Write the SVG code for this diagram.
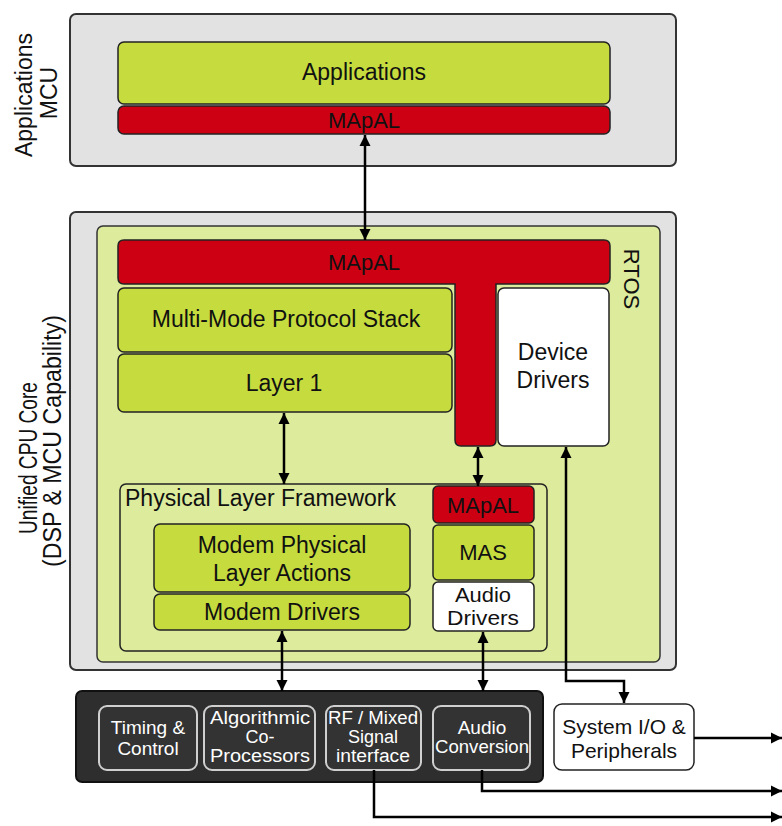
<svg xmlns="http://www.w3.org/2000/svg" width="782" height="826" viewBox="0 0 782 826">
<style>
text{font-family:"Liberation Sans",Arial,sans-serif;fill:#111;text-anchor:middle}
.outer{fill:#e2e2e2;stroke:#333;stroke-width:2}
.rtos{fill:#dceb9c;stroke:#333;stroke-width:1.5}
.green{fill:#c6dc3e;stroke:#222;stroke-width:1.5}
.red{fill:#cc0012;stroke:#222;stroke-width:1.5}
.white{fill:#fff;stroke:#222;stroke-width:1.5}
.plf{fill:none;stroke:#222;stroke-width:1.5}
.dark{fill:#2e2e2e;stroke:#111;stroke-width:2}
.chip{fill:#333;stroke:#cfcfcf;stroke-width:2}
.t25{font-size:25px}
.t23{font-size:23px}
.t22{font-size:22px}
.t21{font-size:21px}
.t20{font-size:20.5px}
.w{fill:#fff;font-size:19px}
.w3{fill:#fff;font-size:18px}
.conn line,.conn path{fill:none;stroke:#000;stroke-width:2.5}
</style>
<defs>
<marker id="ah" viewBox="0 0 10 10" refX="10" refY="5" markerWidth="11" markerHeight="12" markerUnits="userSpaceOnUse" orient="auto-start-reverse">
<path d="M0,0 L10,5 L0,10 z" fill="#000"/>
</marker>
</defs>

<g id="apps-mcu">
<rect class="outer" x="70" y="14" width="606" height="152" rx="6"/>
<text class="t23" transform="translate(32,95) rotate(-90)">Applications</text>
<text class="t23" transform="translate(57,93) rotate(-90)">MCU</text>
</g>
<g id="applications">
<rect class="green" x="118" y="42" width="492" height="62" rx="6"/>
<text class="t23" x="364" y="80">Applications</text>
</g>
<g id="mapal-top">
<rect class="red" x="118" y="106" width="492" height="28" rx="6"/>
<text class="t22" x="364" y="128">MApAL</text>
</g>

<g id="cpu-core">
<rect class="outer" x="70" y="212" width="606" height="458" rx="6"/>
<text class="t25" transform="translate(37,458) rotate(-90)" textLength="152" lengthAdjust="spacingAndGlyphs">Unified CPU Core</text>
<text class="t25" transform="translate(61,441) rotate(-90)" textLength="252" lengthAdjust="spacingAndGlyphs">(DSP &amp; MCU Capability)</text>
</g>
<g id="rtos">
<rect class="rtos" x="97" y="226" width="563" height="436" rx="6"/>
<text class="t22" transform="translate(624,279) rotate(90)">RTOS</text>
</g>
<g id="mapal-t">
<path class="red" d="M124,240 H604 Q610,240 610,246 V278 Q610,284 604,284 H496 V440 Q496,446 490,446 H461 Q455,446 455,440 V284 H124 Q118,284 118,278 V246 Q118,240 124,240 Z"/>
<text class="t22" x="364" y="270">MApAL</text>
</g>
<g id="protocol-stack">
<rect class="green" x="118" y="288" width="334" height="64" rx="6"/>
<text class="t23" x="286" y="327">Multi-Mode Protocol Stack</text>
</g>
<g id="layer1">
<rect class="green" x="118" y="354" width="334" height="58" rx="6"/>
<text class="t23" x="284" y="391">Layer 1</text>
</g>
<g id="device-drivers">
<rect class="white" x="498" y="288" width="111" height="158" rx="6"/>
<text class="t23" x="553" y="360">Device</text>
<text class="t23" x="553" y="388">Drivers</text>
</g>

<g id="plf">
<rect class="plf" x="120" y="484" width="427" height="167" rx="6"/>
<text class="t23" x="125" y="506" style="text-anchor:start">Physical Layer Framework</text>
</g>
<g id="modem-pla">
<rect class="green" x="154" y="524" width="256" height="68" rx="6"/>
<text class="t23" x="282" y="553">Modem Physical</text>
<text class="t23" x="282" y="581">Layer Actions</text>
</g>
<g id="modem-drivers">
<rect class="green" x="154" y="594" width="256" height="36" rx="6"/>
<text class="t23" x="282" y="620">Modem Drivers</text>
</g>
<g id="mapal-small">
<rect class="red" x="433" y="486" width="101" height="37" rx="5"/>
<text class="t22" x="483" y="513">MApAL</text>
</g>
<g id="mas">
<rect class="green" x="433" y="525" width="101" height="55" rx="5"/>
<text class="t22" x="483" y="560">MAS</text>
</g>
<g id="audio-drivers">
<rect class="white" x="433" y="582" width="101" height="49" rx="5"/>
<text class="t20" x="483" y="602" textLength="56" lengthAdjust="spacingAndGlyphs">Audio</text>
<text class="t20" x="483" y="625" textLength="72" lengthAdjust="spacingAndGlyphs">Drivers</text>
</g>

<g id="hardware">
<rect class="dark" x="76" y="691" width="467" height="91" rx="6"/>
</g>
<g id="timing">
<rect class="chip" x="99" y="706" width="98" height="64" rx="8"/>
<text class="w" x="148" y="734">Timing &amp;</text>
<text class="w" x="148" y="755">Control</text>
</g>
<g id="algorithmic">
<rect class="chip" x="204" y="706" width="111" height="64" rx="8"/>
<text class="w3" x="260" y="724" textLength="100" lengthAdjust="spacingAndGlyphs">Algorithmic</text>
<text class="w3" x="260" y="743">Co-</text>
<text class="w3" x="260" y="762" textLength="100" lengthAdjust="spacingAndGlyphs">Processors</text>
</g>
<g id="rf">
<rect class="chip" x="326" y="706" width="95" height="64" rx="8"/>
<text class="w3" x="373" y="724" textLength="90" lengthAdjust="spacingAndGlyphs">RF / Mixed</text>
<text class="w3" x="373" y="743">Signal</text>
<text class="w3" x="373" y="762" textLength="74" lengthAdjust="spacingAndGlyphs">interface</text>
</g>
<g id="audio-conv">
<rect class="chip" x="433" y="706" width="97" height="64" rx="8"/>
<text class="w" x="482" y="734">Audio</text>
<text class="w" x="482" y="753" textLength="94" lengthAdjust="spacingAndGlyphs">Conversion</text>
</g>
<g id="system-io">
<rect class="white" x="554" y="704" width="140" height="66" rx="8"/>
<text class="t21" x="624" y="734">System I/O &amp;</text>
<text class="t21" x="624" y="758">Peripherals</text>
</g>

<g id="connectors" class="conn">
<line x1="365" y1="135" x2="365" y2="240" marker-start="url(#ah)" marker-end="url(#ah)"/>
<line x1="284" y1="413" x2="284" y2="484" marker-start="url(#ah)" marker-end="url(#ah)"/>
<line x1="478" y1="447" x2="478" y2="486" marker-start="url(#ah)" marker-end="url(#ah)"/>
<path d="M566,447 V681 H624 V703" marker-start="url(#ah)" marker-end="url(#ah)"/>
<line x1="282" y1="631" x2="282" y2="691" marker-start="url(#ah)" marker-end="url(#ah)"/>
<line x1="483" y1="632" x2="483" y2="691" marker-start="url(#ah)" marker-end="url(#ah)"/>
<line x1="694" y1="738" x2="782" y2="738" marker-end="url(#ah)"/>
<path d="M482,770 V791 H782" marker-end="url(#ah)"/>
<path d="M374,770 V817 H782" marker-end="url(#ah)"/>
</g>
</svg>
